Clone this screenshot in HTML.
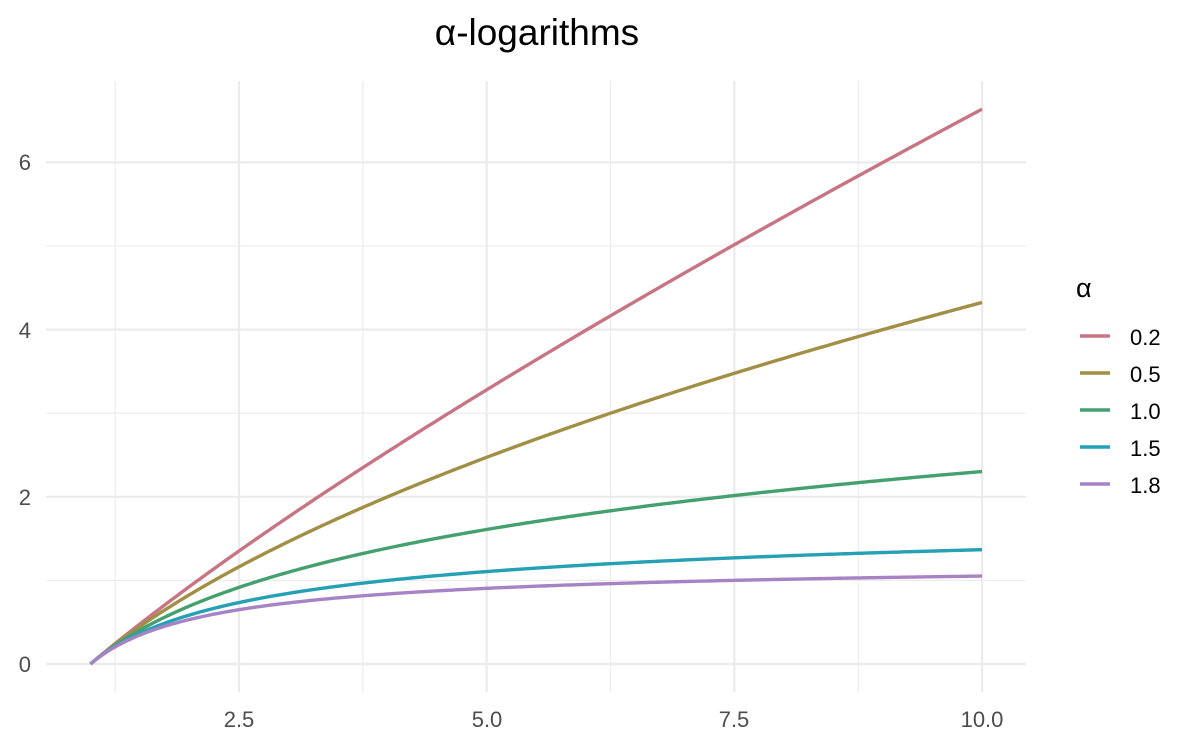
<!DOCTYPE html>
<html><head><meta charset="utf-8"><style>
body{margin:0;background:#fff;font-family:"Liberation Sans",sans-serif}
</style></head><body>
<svg id="s" width="1200" height="750" xmlns="http://www.w3.org/2000/svg" font-family="Liberation Sans, sans-serif">
<rect width="1200" height="750" fill="#fff"/>
<g id="grid"></g>
<g id="lines"></g>
<text x="537" y="45" font-size="37" text-anchor="middle" fill="#000">α-logarithms</text>
<g font-size="22" fill="#4d4d4d">
<text x="31" y="672" text-anchor="end">0</text>
<text x="31" y="505" text-anchor="end">2</text>
<text x="31" y="338" text-anchor="end">4</text>
<text x="31" y="170" text-anchor="end">6</text>
<text x="239" y="727" text-anchor="middle">2.5</text>
<text x="487" y="727" text-anchor="middle">5.0</text>
<text x="734" y="727" text-anchor="middle">7.5</text>
<text x="982" y="727" text-anchor="middle">10.0</text>
</g>
<text x="1076" y="297" font-size="27" fill="#000">α</text>
<g id="leg" font-size="22" fill="#000"></g>
</svg>
<script>
var X=function(x){return 239+(x-2.5)*99.07},Y=function(y){return 664-y*83.6};
var g=document.getElementById('grid'),h='';
[1.25,3.75,6.25,8.75].forEach(function(v){h+='<line x1="'+X(v)+'" x2="'+X(v)+'" y1="81" y2="692" stroke="#ebebeb" stroke-width="1.1"/>'});
[1,3,5].forEach(function(v){h+='<line y1="'+Y(v)+'" y2="'+Y(v)+'" x1="46" x2="1026" stroke="#ebebeb" stroke-width="1.1"/>'});
[2.5,5,7.5,10].forEach(function(v){h+='<line x1="'+X(v)+'" x2="'+X(v)+'" y1="81" y2="692" stroke="#ebebeb" stroke-width="2.2"/>'});
[0,2,4,6].forEach(function(v){h+='<line y1="'+Y(v)+'" y2="'+Y(v)+'" x1="46" x2="1026" stroke="#ebebeb" stroke-width="2.2"/>'});
g.innerHTML=h;
var S=[[0.2,'#C77585','0.2'],[0.5,'#A08F45','0.5'],[1,'#44A06E','1.0'],[1.5,'#25A0B5','1.5'],[1.8,'#A783C5','1.8']];
var l='',lg='';
S.forEach(function(s,i){var a=s[0],p='';
for(var k=0;k<=300;k++){var x=1+9*k/300;var y=a==1?Math.log(x):(Math.pow(x,1-a)-1)/(1-a);p+=(k?'L':'M')+X(x).toFixed(2)+','+Y(y).toFixed(2)}
l+='<path d="'+p+'" fill="none" stroke="'+s[1]+'" stroke-width="3.4"/>';
var yy=[336,373,410,447,484][i];
lg+='<line x1="1080" x2="1110" y1="'+yy+'" y2="'+yy+'" stroke="'+s[1]+'" stroke-width="3.4"/><text x="1130" y="'+(yy+9)+'">'+s[2]+'</text>';});
document.getElementById('lines').innerHTML=l;document.getElementById('leg').innerHTML=lg;
</script>
</body></html>
